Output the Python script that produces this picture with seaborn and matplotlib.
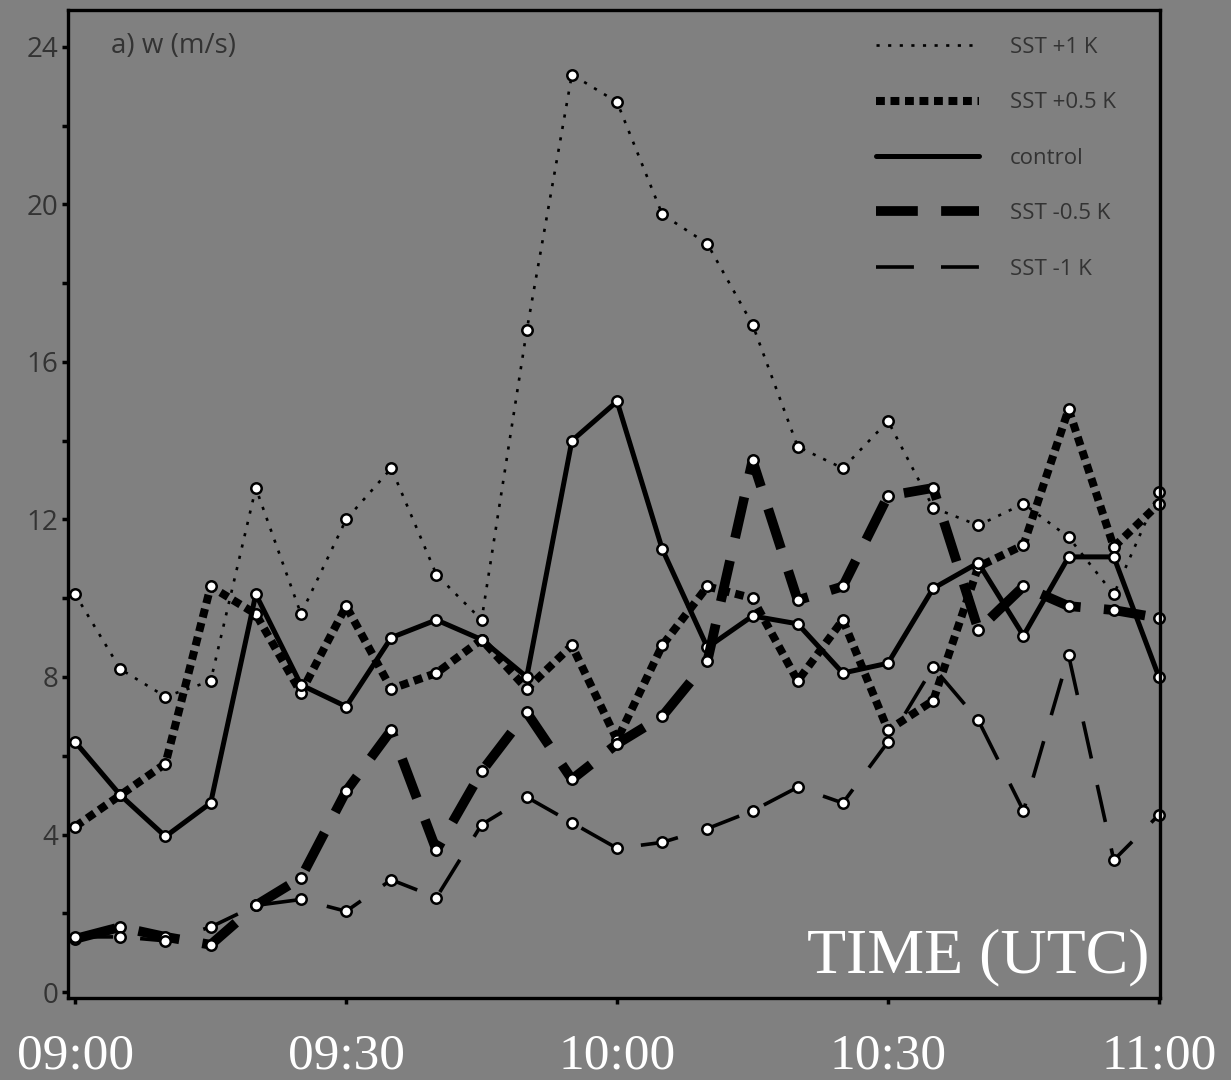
import matplotlib
matplotlib.use("Agg")
import matplotlib.pyplot as plt
from matplotlib.lines import Line2D
import numpy as np
import pandas as pd
import seaborn as sns

# minutes after 09:00 (5-minute output)
minutes = [0, 5, 10, 15, 20, 25, 30, 35, 40, 45, 50, 55, 60,
           65, 70, 75, 80, 85, 90, 95, 100, 105, 110, 115, 120]

sst_p1 = [10.1, 8.2, 7.5, 7.9, 12.8, 9.6, 12.0, 13.3, 10.6, 9.45, 16.8, 23.3, 22.6,
          19.75, 19.0, 16.95, 13.85, 13.3, 14.5, 12.3, 11.85, 12.4, 11.55, 10.1, 12.7]
sst_p05 = [4.2, 5.0, 5.8, 10.3, 9.6, 7.6, 9.8, 7.7, 8.1, 8.95, 7.7, 8.8, 6.4,
           8.8, 10.3, 10.0, 7.9, 9.45, 6.65, 7.4, 10.8, 11.35, 14.8, 11.3, 12.4]
control = [6.35, 5.0, 3.95, 4.8, 10.1, 7.8, 7.25, 9.0, 9.45, 8.95, 8.0, 14.0, 15.0,
           11.25, 8.75, 9.55, 9.35, 8.1, 8.35, 10.25, 10.9, 9.05, 11.05, 11.05, 8.0]
sst_m05 = [1.35, 1.65, 1.4, 1.2, 2.2, 2.9, 5.1, 6.65, 3.6, 5.6, 7.1, 5.4, 6.3,
           7.0, 8.4, 13.5, 9.95, 10.3, 12.6, 12.8, 9.2, 10.3, 9.8, 9.7, 9.5]
sst_m1 = [1.4, 1.4, 1.3, 1.65, 2.2, 2.35, 2.05, 2.85, 2.4, 4.25, 4.95, 4.3, 3.65,
          3.8, 4.15, 4.6, 5.2, 4.8, 6.35, 8.25, 6.9, 4.6, 8.55, 3.35, 4.5]

labels = ["SST +1 K", "SST +0.5 K", "control", "SST -0.5 K", "SST -1 K"]
xtick_pos = [0, 30, 60, 90, 120]
xtick_labels = ["09:00", "09:30", "10:00", "10:30", "11:00"]

bg = "#808080"
txt_dark = "#333333"

sns.set_style("white")
plt.rcParams["font.family"] = ["Open Sans", "DejaVu Sans"]

styles = [
    dict(lw=1.9, ls=(0, (1.2, 3.2))),
    dict(lw=5.8, ls=(0, (1.1, 0.7))),
    dict(lw=3.6, ls="-"),
    dict(lw=7.0, ls=(0, (4.3, 2.4))),
    dict(lw=2.6, ls=(0, (10.5, 7.5))),
]
series = [sst_p1, sst_p05, control, sst_m05, sst_m1]

fig = plt.figure(figsize=(12.31, 10.8), dpi=100, facecolor=bg)
ax = fig.add_axes([0.0552, 0.076, 0.887, 0.9148])
ax.set_facecolor(bg)

for vals, st in zip(series, styles):
    df = pd.DataFrame({"t": minutes, "w": vals})
    sns.lineplot(data=df, x="t", y="w", ax=ax, color="black",
                 linewidth=st["lw"], linestyle=st["ls"],
                 marker="o", markersize=7.5, markerfacecolor="white",
                 markeredgecolor="black", markeredgewidth=1.8,
                 clip_on=False)

ax.set_xlim(-0.8, 120.1)
ax.set_ylim(-0.15, 24.94)

ax.set_xticks(xtick_pos)
ax.set_xticklabels(xtick_labels, family="Liberation Serif", fontsize=37, color="white")
ax.set_yticks(range(0, 25, 4))
ax.set_yticks(range(2, 24, 4), minor=True)
ax.tick_params(axis="y", which="both", direction="out", length=4, width=2.5,
               color="black", labelsize=20, labelcolor=txt_dark, pad=3, left=True)
ax.tick_params(axis="x", which="major", direction="out", length=4, width=2.5,
               color="black", pad=21, bottom=True)
ax.set_xlabel("")
ax.set_ylabel("")

for sp in ax.spines.values():
    sp.set_color("black")
    sp.set_linewidth(2.4)
    sp.set_visible(True)

ax.text(0.039, 0.963, "a) w (m/s)", transform=ax.transAxes, fontsize=20,
        color=txt_dark, va="center", ha="left")
ax.text(0.99, 0.012, "TIME (UTC)", transform=ax.transAxes, fontsize=46,
        family="Liberation Serif", color="white", ha="right", va="bottom")

handles = [Line2D([0], [0], color="black", linewidth=st["lw"], linestyle=st["ls"])
           for st in styles]
leg = ax.legend(handles, labels, loc="upper left", bbox_to_anchor=(0.722, 0.993),
                frameon=False, fontsize=16, labelcolor=txt_dark,
                handlelength=4.6, handletextpad=1.4, labelspacing=1.55)

fig.savefig("out.png", dpi=100, facecolor=bg)
